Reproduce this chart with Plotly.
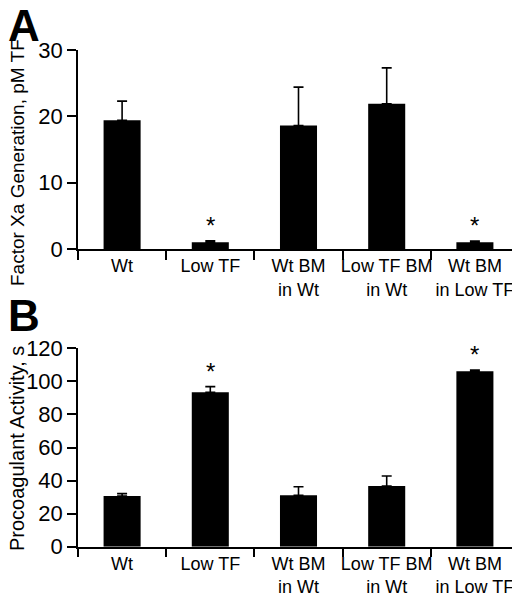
import plotly.graph_objects as go

groups = ["Wt", "Low TF", "Wt BM<br>in Wt", "Low TF BM<br>in Wt", "Wt BM<br>in Low TF"]

# panel A: factor Xa generation (pM TF), mean and upper SEM
xa_mean = [19.4, 1.0, 18.6, 21.9, 1.0]
xa_err = [2.9, 0.25, 5.8, 5.4, 0.2]
xa_sig = [False, True, False, False, True]

# panel B: procoagulant activity (s)
pca_mean = [30.7, 93.4, 31.1, 36.7, 106.1]
pca_err = [1.4, 3.4, 5.2, 6.1, 0.8]
pca_sig = [False, True, False, False, True]

# the page body adds an 8px margin, so lay out on a 512x587 canvas
OFF = 8
W, H = 520 - OFF, 595 - OFF
L, R = 78 - OFF, 1
FONT = "Liberation Sans"


def px_x(p):
    # screen pixel -> paper x
    return (p - OFF - L) / (W - L - R)


def px_y(p):
    return (H - (p - OFF)) / H


fig = go.Figure()

for i, (mean, err) in enumerate([(xa_mean, xa_err), (pca_mean, pca_err)]):
    fig.add_bar(
        x=groups, y=mean,
        xaxis="x" if i == 0 else "x2",
        yaxis="y" if i == 0 else "y2",
        width=0.42,
        marker=dict(color="black", line=dict(width=0)),
        error_y=dict(type="data", symmetric=False, array=err,
                     arrayminus=[0] * len(err), color="black",
                     thickness=1.6, width=5),
        showlegend=False,
    )

# significance stars
for i, (mean, err, sig) in enumerate([(xa_mean, xa_err, xa_sig),
                                       (pca_mean, pca_err, pca_sig)]):
    for g, m, e, s in zip(groups, mean, err, sig):
        if s:
            fig.add_annotation(x=g, y=m + e, xref="x" if i == 0 else "x2",
                               yref="y" if i == 0 else "y2",
                               text="*", showarrow=False, yanchor="bottom",
                               yshift=0, font=dict(size=24, color="black"))

axis_common = dict(showline=True, linecolor="black", linewidth=1.5,
                   ticks="outside", tickcolor="black", tickwidth=1.5,
                   showgrid=False, zeroline=False, automargin=False)

fig.update_layout(
    width=W, height=H,
    margin=dict(l=L, r=R, t=0, b=0),
    plot_bgcolor="white", paper_bgcolor="white",
    font=dict(family=FONT, color="black"),
    xaxis=dict(domain=[0, 1], anchor="y", tickson="boundaries", ticklen=9,
               tickangle=0, tickfont=dict(size=18), **axis_common),
    yaxis=dict(domain=[px_y(249), px_y(50)], anchor="x", range=[0, 30],
               dtick=10, ticklen=9, tickfont=dict(size=22), **axis_common),
    xaxis2=dict(domain=[0, 1], anchor="y2", tickson="boundaries", ticklen=9,
                tickangle=0, tickfont=dict(size=18), **axis_common),
    yaxis2=dict(domain=[px_y(546.7), px_y(348.3)], anchor="x2",
                range=[0, 120], dtick=20, ticklen=9,
                tickfont=dict(size=22), **axis_common),
)

# y titles
fig.add_annotation(text="Factor Xa Generation, pM TF", textangle=-90,
                   xref="paper", yref="paper", x=px_x(17), y=px_y(163),
                   xanchor="center", yanchor="middle",
                   showarrow=False, font=dict(size=19))
fig.add_annotation(text="Procoagulant Activity, s", textangle=-90,
                   xref="paper", yref="paper", x=px_x(17), y=px_y(449),
                   xanchor="center", yanchor="middle",
                   showarrow=False, font=dict(size=20))

# panel letters
fig.add_annotation(text="<b>A</b>", xref="paper", yref="paper",
                   x=px_x(OFF - 2), y=px_y(-1), xanchor="left",
                   yanchor="top", showarrow=False, font=dict(size=44))
fig.add_annotation(text="<b>B</b>", xref="paper", yref="paper",
                   x=px_x(OFF - 2), y=px_y(289), xanchor="left",
                   yanchor="top", showarrow=False, font=dict(size=44))

fig.write_html("out.html")
